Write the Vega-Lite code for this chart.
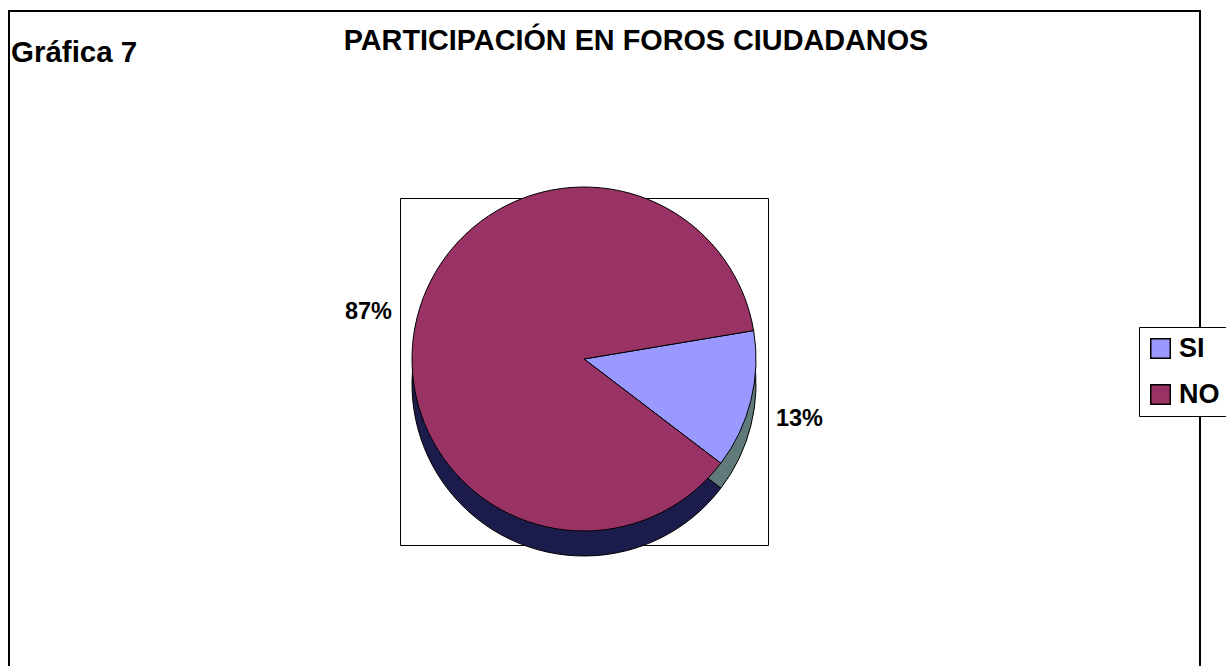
{
  "$schema": "https://vega.github.io/schema/vega-lite/v6.json",
  "width": 368,
  "height": 347,
  "autosize": {"type": "none"},
  "padding": {"left": 400, "top": 198, "right": 458, "bottom": 121},
  "background": "white",
  "config": {"view": {"stroke": "black", "strokeWidth": 1}, "font": "Liberation Sans"},
  "title": {
    "text": "PARTICIPACIÓN EN FOROS CIUDADANOS",
    "anchor": "middle",
    "frame": "group",
    "dx": 52,
    "offset": -72,
    "baseline": "alphabetic",
    "font": "Liberation Sans",
    "fontSize": 28.8,
    "fontWeight": "bold",
    "color": "black"
  },
  "data": {"values": [
    {"respuesta": "SI", "porcentaje": 0.13, "orden": 1},
    {"respuesta": "NO", "porcentaje": 0.87, "orden": 2}
  ]},
  "layer": [
    {
      "data": {"values": [{"marco": "borde"}]},
      "mark": {"type": "point", "shape": "M-1,-0.58774H1V0.58774H-1Z", "size": 1418481, "filled": false, "stroke": "black", "strokeWidth": 2, "opacity": 1, "xOffset": 20.5, "yOffset": -10.5},
      "encoding": {}
    },
    {
      "mark": {"type": "arc", "radius": 172, "yOffset": 12.5, "stroke": "black", "strokeWidth": 1},
      "encoding": {
        "theta": {"field": "porcentaje", "type": "quantitative", "stack": true, "scale": {"range": [1.405, 7.688]}},
        "order": {"field": "orden", "type": "quantitative"},
        "color": {"field": "respuesta", "type": "nominal", "scale": {"domain": ["SI", "NO"], "range": ["#607A7A", "#1C1C4C"]}, "legend": null}
      }
    },
    {
      "mark": {"type": "arc", "radius": 172, "yOffset": -12.5, "stroke": "black", "strokeWidth": 1},
      "encoding": {
        "theta": {"field": "porcentaje", "type": "quantitative", "stack": true, "scale": {"range": [1.405, 7.688]}},
        "order": {"field": "orden", "type": "quantitative"},
        "color": {
          "field": "respuesta", "type": "nominal",
          "scale": {"domain": ["SI", "NO"], "range": ["#9999FF", "#993366"]},
          "legend": {
            "title": null, "orient": "none", "legendX": 739, "legendY": 129,
            "symbolType": "square", "symbolSize": 380, "symbolStrokeColor": "black", "symbolStrokeWidth": 1.5,
            "labelFont": "Liberation Sans", "labelFontSize": 27, "labelFontWeight": "bold", "labelColor": "black",
            "labelOffset": 5, "rowPadding": 18, "padding": 8,
            "strokeColor": "black", "fillColor": "white"
          }
        }
      }
    },
    {
      "mark": {"type": "text", "radius": 222, "dy": -6, "font": "Liberation Sans", "fontSize": 23.5, "fontWeight": "bold", "color": "black"},
      "encoding": {
        "theta": {"field": "porcentaje", "type": "quantitative", "stack": true, "scale": {"range": [1.405, 7.688]}},
        "order": {"field": "orden", "type": "quantitative"},
        "text": {"field": "porcentaje", "type": "quantitative", "format": ".0%"}
      }
    },
    {
      "data": {"values": [{"texto": "Gráfica 7"}]},
      "mark": {"type": "text", "align": "left", "baseline": "alphabetic", "font": "Liberation Sans", "fontSize": 29.5, "fontWeight": "bold", "color": "black"},
      "encoding": {
        "text": {"field": "texto", "type": "nominal"},
        "x": {"value": -389},
        "y": {"value": -136}
      }
    }
  ],
  "resolve": {"scale": {"color": "independent"}}
}
